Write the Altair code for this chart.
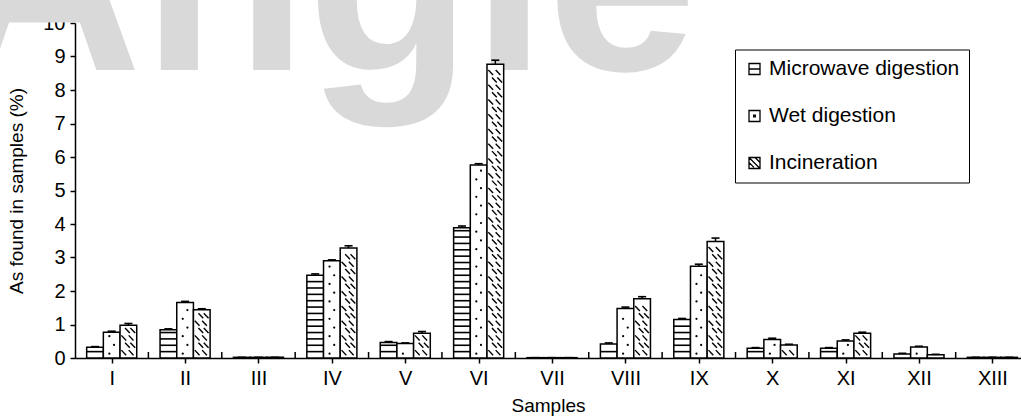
import altair as alt
import pandas as pd

# ---------------- data ----------------
categories = ["I", "II", "III", "IV", "V", "VI", "VII", "VIII", "IX", "X", "XI", "XII", "XIII"]
series_names = ["Microwave digestion", "Wet digestion", "Incineration"]
microwave = [0.32, 0.84, 0.02, 2.47, 0.46, 3.89, 0.01, 0.42, 1.15, 0.29, 0.29, 0.12, 0.02]
wet = [0.77, 1.66, 0.02, 2.90, 0.43, 5.76, 0.01, 1.48, 2.74, 0.55, 0.51, 0.33, 0.02]
incineration = [0.98, 1.44, 0.02, 3.28, 0.74, 8.77, 0.01, 1.77, 3.48, 0.39, 0.74, 0.10, 0.02]
microwave_err = [0.02, 0.03, 0.0, 0.04, 0.03, 0.05, 0.0, 0.03, 0.03, 0.02, 0.02, 0.02, 0.0]
wet_err = [0.03, 0.03, 0.0, 0.03, 0.02, 0.04, 0.0, 0.04, 0.06, 0.04, 0.03, 0.02, 0.0]
incineration_err = [0.05, 0.03, 0.0, 0.07, 0.05, 0.12, 0.0, 0.06, 0.10, 0.02, 0.03, 0.01, 0.0]
y_ticks = list(range(0, 11))
watermark_text = "Angle"

# ---------------- layout / style ----------------
FONT = "Liberation Sans, Arial, Helvetica, sans-serif"
W, H = 946, 335
HALF_GROUP = 0.341
BAR_W = 2 * HALF_GROUP / 3
X_DOMAIN = [0.5, 13.39]

values_by_series = [microwave, wet, incineration]
err_by_series = [microwave_err, wet_err, incineration_err]

rows = []
for s, name in enumerate(series_names):
    for i, cat in enumerate(categories):
        idx = i + 1
        x1 = idx - HALF_GROUP + s * BAR_W
        rows.append(dict(cat=cat, idx=idx, series=name, s=s,
                         value=values_by_series[s][i], err=err_by_series[s][i],
                         x1=x1, x2=x1 + BAR_W, xc=x1 + BAR_W / 2,
                         zero=0.0))
bars = pd.DataFrame(rows)
bars["top"] = bars["value"] + bars["err"]
bars["cap1"] = bars["xc"] - 0.055
bars["cap2"] = bars["xc"] + 0.055

# pattern fills derived from bar values
stripes, dots, dashes = [], [], []
for r in rows:
    v = r["value"]
    if r["s"] == 0:
        k = 1
        while k * 0.19 < v - 0.06:
            stripes.append(dict(x1=r["x1"], x2=r["x2"], y=k * 0.19))
            k += 1
    elif r["s"] == 1:
        k = 0
        while 0.13 + k * 0.26 < v - 0.06:
            f = 0.36 if k % 2 == 0 else 0.64
            dots.append(dict(x=r["x1"] + f * BAR_W, y=0.13 + k * 0.26))
            k += 1
    else:
        k = 0
        while 0.16 + k * 0.22 + 0.08 < v - 0.03:
            yc = 0.16 + k * 0.22
            fs = [0.08, 0.52] if k % 2 == 0 else [0.3, 0.62]
            for f in fs:
                xa = r["x1"] + f * BAR_W
                dashes.append(dict(x1=xa, x2=xa + 0.065, y1=yc + 0.075, y2=yc - 0.075))
            k += 1
stripes = pd.DataFrame(stripes)
dots = pd.DataFrame(dots)
dashes = pd.DataFrame(dashes)

bounds = pd.DataFrame({"x": [i + 1.5 for i in range(len(categories) - 1)], "y": 0.0})
legend_df = pd.DataFrame({"series": series_names, "x": 0.0, "y": 0.0})
wm_df = pd.DataFrame({"t": [watermark_text]})

xscale = alt.Scale(domain=X_DOMAIN, nice=False, zero=False)
yscale = alt.Scale(domain=[0, 10], nice=False)

label_expr = "[" + ",".join("'" + c + "'" for c in categories) + "][datum.value - 1]"

x_axis = alt.Axis(values=list(range(1, len(categories) + 1)), labelExpr=label_expr,
                  title="Samples", tickSize=5, labelPadding=5, grid=False,
                  titleX=W / 2, titleY=47, titleBaseline="middle", titleAlign="center",
                  labelFlush=False, labelOverlap=False)
y_axis = alt.Axis(values=y_ticks, title="As found in samples (%)", tickSize=5,
                  labelPadding=5, grid=False, titleX=-59, titleY=H / 2,
                  titleAngle=270, titleBaseline="middle", titleAlign="center",
                  labelOverlap=False, labelFlush=False, tickCount=11)


def X(field):
    return alt.X(field, scale=xscale, axis=x_axis)


def Y(field):
    return alt.Y(field, scale=yscale, axis=y_axis)


watermark = alt.Chart(wm_df).mark_text(
    font=FONT, fontWeight="bold", fontSize=270, color="#d9d9d9",
    align="left", baseline="alphabetic"
).encode(text="t:N", x=alt.value(-128), y=alt.value(47))

bar_layer = alt.Chart(bars).mark_rect(fill="white", stroke="black", strokeWidth=1.5).encode(
    x=X("x1:Q"), x2="x2:Q", y=Y("value:Q"), y2="zero:Q")

stripe_layer = alt.Chart(stripes).mark_rule(color="black", strokeWidth=1.6).encode(
    x=X("x1:Q"), x2="x2:Q", y=Y("y:Q"))

dot_layer = alt.Chart(dots).mark_circle(color="black", size=5, opacity=1).encode(
    x=X("x:Q"), y=Y("y:Q"))

dash_layer = alt.Chart(dashes).mark_rule(color="black", strokeWidth=1.4).encode(
    x=X("x1:Q"), x2="x2:Q", y=Y("y1:Q"), y2="y2:Q")

err_layer = alt.Chart(bars).mark_rule(color="black", strokeWidth=1.5).encode(
    x=X("xc:Q"), y=Y("value:Q"), y2="top:Q")

cap_layer = alt.Chart(bars).mark_rule(color="black", strokeWidth=1.6).encode(
    x=X("cap1:Q"), x2="cap2:Q", y=Y("top:Q"))

bound_layer = alt.Chart(bounds).mark_rule(color="black", strokeWidth=1.5).encode(
    x=X("x:Q"), y=Y("y:Q"), y2=alt.value(H - 6))

sq = "M-1,-1H1V1H-1Z"
paths = [sq + " M-1,0H1",
         sq + " M-0.15,-0.15H0.15V0.15H-0.15Z",
         sq + " M-1,-1L1,1 M-1,-0.1L-0.1,0.8 M0.1,-1L1,-0.1"]

legend_layer = alt.Chart(legend_df).mark_point(clip=True, filled=False, color="black").encode(
    x=X("x:Q"),
    y=Y("y:Q"),
    shape=alt.Shape("series:N",
                    scale=alt.Scale(domain=series_names, range=paths),
                    legend=alt.Legend(orient="none", legendX=660, legendY=26.5, title=None,
                                      labelFont=FONT, labelFontSize=21, labelColor="black",
                                      labelLimit=400,
                                      symbolSize=121, symbolStrokeWidth=1.3,
                                      symbolStrokeColor="black", symbolFillColor="white",
                                      symbolOpacity=1, strokeColor="black", fillColor="white",
                                      padding=9, rowPadding=25, labelOffset=4,
                                      cornerRadius=0)),
)

chart = alt.layer(
    watermark, bar_layer, stripe_layer, dot_layer, dash_layer, err_layer, cap_layer,
    bound_layer, legend_layer
).properties(
    width=W, height=H,
    autosize=alt.AutoSizeParams(type="none"),
    padding={"left": 75, "top": 23, "right": 0, "bottom": 62},
    background="white",
).configure_view(stroke=None).configure_axis(
    domainColor="black", domainWidth=1.5, tickColor="black", tickWidth=1.5,
    labelFont=FONT, labelFontSize=20, labelColor="black",
    titleFont=FONT, titleFontSize=19, titleFontWeight="normal", titleColor="black",
)

chart.save("out.html", embed_options={"renderer": "svg", "actions": False})
